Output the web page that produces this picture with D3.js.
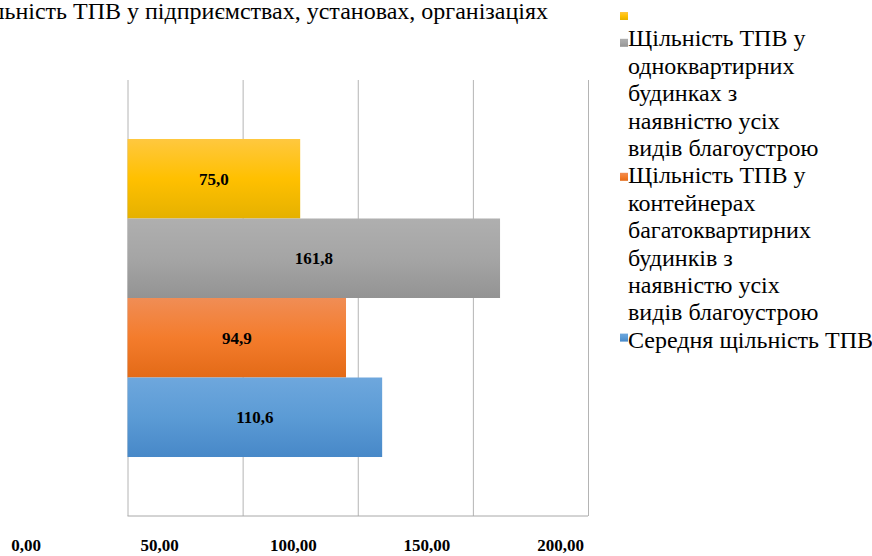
<!DOCTYPE html>
<html>
<head>
<meta charset="utf-8">
<script src="https://cdn.jsdelivr.net/npm/d3@7/dist/d3.min.js"></script>
<style>
  html, body { margin: 0; padding: 0; background: #fff; }
  svg { display: block; }
</style>
</head>
<body>
<svg id="chart" width="872" height="556"></svg>
<script>
// ---- data ----
const seriesNames = [
  "Щільність ТПВ у підприємствах, установах, організаціях",
  "Щільність ТПВ у одноквартирних будинках з наявністю усіх видів благоустрою",
  "Щільність ТПВ у контейнерах багатоквартирних будинків з наявністю усіх видів благоустрою",
  "Середня щільність ТПВ"
];
const seriesValues = [75.0, 161.8, 94.9, 110.6];
const seriesColors = [
  ["#FFC83F", "#FFC000", "#E5B100"],
  ["#AFAFAF", "#A5A5A5", "#939393"],
  ["#F08D55", "#F47C2C", "#E36A17"],
  ["#6EA7DD", "#5B9BD5", "#4788C8"]
];
const legendLines = [
  [""],
  ["Щільність ТПВ у", "одноквартирних", "будинках з", "наявністю усіх", "видів благоустрою"],
  ["Щільність ТПВ у", "контейнерах", "багатоквартирних", "будинків з", "наявністю усіх", "видів благоустрою"],
  ["Середня щільність ТПВ"]
];
const xTicks = [0, 50, 100, 150, 200];

// ---- layout ----
const svg = d3.select("#chart");
const plot = { left: 127.5, right: 588, top: 80, bottom: 516 };
const serif = "'Liberation Serif', 'Times New Roman', serif";

const x = d3.scaleLinear().domain([0, 200]).range([plot.left, plot.right]);
const xLabel = d3.scaleLinear().domain([0, 200]).range([25.5, 560]);
const y = d3.scaleBand().domain(d3.range(seriesValues.length))
  .range([plot.top, plot.bottom]).paddingInner(0).paddingOuter(0.742);

const fmt = v => d3.format(".2f")(v).replace(".", ",");
const fmt1 = v => d3.format(".1f")(v).replace(".", ",");

// gradients
const defs = svg.append("defs");
seriesColors.forEach((c, i) => {
  const g = defs.append("linearGradient").attr("id", "g" + i)
    .attr("x1", 0).attr("y1", 0).attr("x2", 0).attr("y2", 1);
  g.append("stop").attr("offset", "0%").attr("stop-color", c[0]);
  g.append("stop").attr("offset", "50%").attr("stop-color", c[1]);
  g.append("stop").attr("offset", "100%").attr("stop-color", c[2]);
});

// gridlines
const grid = svg.append("g").attr("transform", `translate(0,${plot.bottom})`)
  .call(d3.axisBottom(x).tickValues(xTicks).tickSize(-(plot.bottom - plot.top)).tickFormat(""));
grid.select(".domain").remove();
grid.selectAll(".tick line").attr("stroke", "#b4b4b4").attr("stroke-width", 1);

// bottom line
svg.append("line")
  .attr("x1", x(0)).attr("x2", x(200))
  .attr("y1", plot.bottom).attr("y2", plot.bottom)
  .attr("stroke", "#a8a8a8").attr("stroke-width", 1);

// bars
svg.append("g").selectAll("rect").data(seriesValues).join("rect")
  .attr("x", x(0))
  .attr("y", (d, i) => y(i))
  .attr("width", d => x(d) - x(0))
  .attr("height", y.bandwidth())
  .attr("fill", (d, i) => `url(#g${i})`);

// data labels
svg.append("g").selectAll("text").data(seriesValues).join("text")
  .attr("x", d => (x(0) + x(d)) / 2)
  .attr("y", (d, i) => y(i) + y.bandwidth() / 2)
  .attr("dy", "0.35em")
  .attr("text-anchor", "middle")
  .attr("font-family", serif)
  .attr("font-weight", "bold")
  .attr("font-size", 17)
  .attr("fill", "#000")
  .text(d => fmt1(d));

// axis labels
const ax = svg.append("g").attr("transform", "translate(0,551)")
  .call(d3.axisBottom(xLabel).tickValues(xTicks).tickSize(0).tickPadding(0).tickFormat(fmt));
ax.select(".domain").remove();
ax.selectAll("text")
  .attr("dy", 0)
  .attr("font-family", serif)
  .attr("font-weight", "bold")
  .attr("font-size", 17)
  .attr("fill", "#000");

// displaced first legend label (title at top, clipped on the left as in the reference)
svg.append("text")
  .attr("x", 548).attr("y", 19)
  .attr("text-anchor", "end")
  .attr("font-family", serif)
  .attr("font-size", 24)
  .attr("fill", "#000")
  .text(seriesNames[0]);

// legend
const lineStep = 27.4;
const markStep = 26.8;
const firstBase = 19;
let lineIdx = 0;
const legend = svg.append("g");
legendLines.forEach((lines, i) => {
  const base = firstBase + lineIdx * lineStep;
  legend.append("rect")
    .attr("x", 620).attr("y", 12 + lineIdx * markStep)
    .attr("width", 8).attr("height", 8)
    .attr("fill", `url(#g${i})`);
  lines.forEach((ln, j) => {
    legend.append("text")
      .attr("x", 628)
      .attr("y", base + j * lineStep)
      .attr("font-family", serif)
      .attr("font-size", 24)
      .attr("fill", "#000")
      .text(ln);
  });
  lineIdx += lines.length;
});
</script>
</body>
</html>
